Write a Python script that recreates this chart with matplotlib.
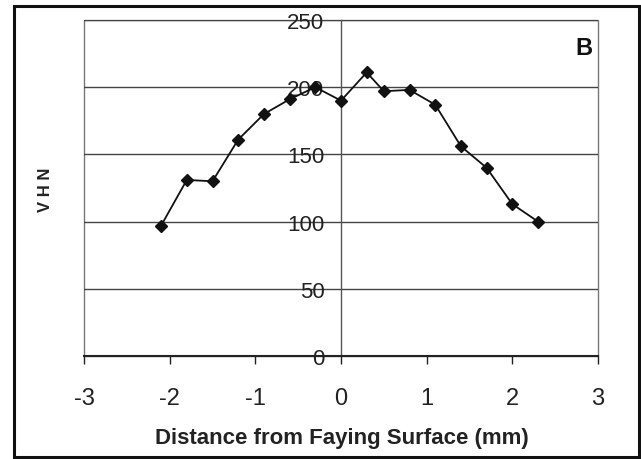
import matplotlib
matplotlib.use("Agg")
import matplotlib.pyplot as plt
from matplotlib.patches import Rectangle

# data
distance = [-2.1, -1.8, -1.5, -1.2, -0.9, -0.6, -0.3, 0.0, 0.3, 0.5, 0.8, 1.1, 1.4, 1.7, 2.0, 2.3]
vhn = [97, 131, 130, 161, 180, 191, 200, 190, 211, 197, 198, 187, 156, 140, 113, 100]
x_ticks = [-3, -2, -1, 0, 1, 2, 3]
y_ticks = [0, 50, 100, 150, 200, 250]

plt.rcParams['font.family'] = ['Liberation Sans', 'DejaVu Sans']
plt.rcParams['axes.unicode_minus'] = False

fig = plt.figure(figsize=(6.41, 4.6), dpi=100)
ax = fig.add_axes([84 / 641, 103 / 460, 514 / 641, 336 / 460])

ax.plot(distance, vhn, color='#111111', lw=1.3, marker='D', ms=6,
        mfc='#111111', mec='#111111', zorder=3)

ax.set_xlim(-3, 3)
ax.set_ylim(0, 250)
ax.set_xticks(x_ticks)
ax.set_yticks(y_ticks)
ax.grid(axis='y', color='#444444', lw=1.0)

for s in ['top', 'right']:
    ax.spines[s].set_visible(False)
ax.spines['left'].set_position(('data', 0))
ax.spines['left'].set_color('#555555')
ax.spines['left'].set_linewidth(1.0)
ax.spines['bottom'].set_color('#222222')
ax.spines['bottom'].set_linewidth(1.5)
ax.add_patch(Rectangle((0, 0), 1, 1, transform=ax.transAxes, fill=False,
                       edgecolor='#777777', lw=1.0, clip_on=False, zorder=0))

ax.tick_params(axis='y', length=0, pad=12, labelsize=16, colors='#222222')
ax.tick_params(axis='x', direction='out', length=6, width=1.0, pad=16,
               labelsize=17, colors='#222222')

fig.text(342 / 641, 1 - 439 / 460, 'Distance from Faying Surface (mm)',
         ha='center', va='center', fontsize=16, fontweight='bold', color='#222222')
fig.text(45 / 641, 1 - 190 / 460, 'V H N', rotation=90, ha='center', va='center',
         fontsize=12, fontweight='bold', color='#222222')
fig.text(584 / 641, 1 - 49 / 460, 'B', ha='center', va='center',
         fontsize=17, fontweight='bold', color='#111111')

# outer frame
fig.patches.append(Rectangle((13.5 / 641, 2 / 460), 625.5 / 641, 451.5 / 460,
                             transform=fig.transFigure, fill=False,
                             edgecolor='#111111', lw=2.2))

fig.savefig('out.png', dpi=100)
